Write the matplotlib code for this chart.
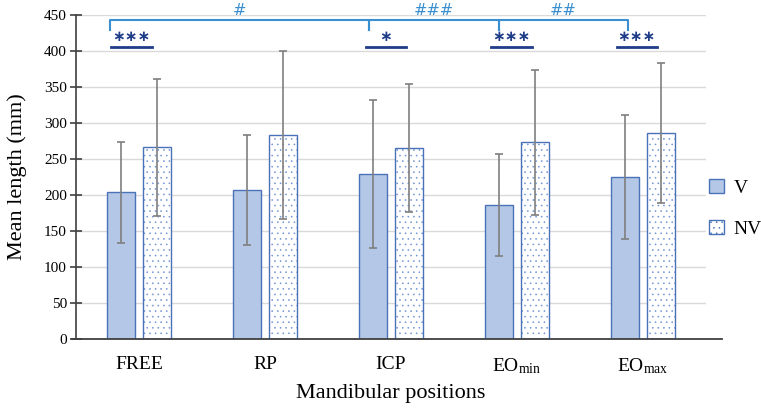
import matplotlib
matplotlib.use("Agg")
import matplotlib.pyplot as plt
import numpy as np

categories = ["FREE", "RP", "ICP", "EO$_{\\mathrm{min}}$", "EO$_{\\mathrm{max}}$"]
v_mean = [204, 207, 229, 186, 225]
v_sd = [70, 76, 103, 71, 86]
nv_mean = [266, 283, 265, 273, 286]
nv_sd = [95, 116, 89, 101, 97]
series_labels = ["V", "NV"]
y_ticks = [0, 50, 100, 150, 200, 250, 300, 350, 400, 450]

# significance annotations (category-coordinate spans)
star_spans = [(-0.22, 0.10), (1.80, 2.12), (2.79, 3.12), (3.79, 4.11)]
star_texts = ["\u2217\u2217\u2217", "\u2217", "\u2217\u2217\u2217", "\u2217\u2217\u2217"]
hash_spans = [(-0.23, 1.825), (1.825, 2.857), (2.857, 3.881)]
hash_texts = ["#", "###", "##"]

plt.rcParams['font.family'] = ['Liberation Serif', 'DejaVu Serif']
plt.rcParams['mathtext.fontset'] = 'custom'
plt.rcParams['mathtext.rm'] = 'Liberation Serif'
plt.rcParams['mathtext.it'] = 'Liberation Serif:italic'
plt.rcParams['hatch.linewidth'] = 0.4

W, H = 761, 408
fig = plt.figure(figsize=(W / 100, H / 100), dpi=100)
ax = fig.add_axes([76 / W, 1 - 339.3 / H, 630 / W, (339.3 - 14.7) / H])

x = np.arange(len(categories))
bw = 0.222
off = 0.143
edge = '#4A72B8'
ax.bar(x - off, v_mean, bw, color='#B4C7E7', edgecolor=edge, linewidth=1.0, zorder=3, label=series_labels[0])
# NV: hatched fill in lighter blue, then outline
ax.bar(x + off, nv_mean, bw, color='white', edgecolor='#6F93D3', linewidth=0, hatch='...', zorder=3)
ax.bar(x + off, nv_mean, bw, fill=False, edgecolor=edge, linewidth=1.0, zorder=3)
ax.bar([np.nan], [np.nan], bw, color='white', edgecolor=edge, linewidth=1.0, hatch='...', label=series_labels[1])
ax.errorbar(x - off, v_mean, yerr=v_sd, fmt='none', ecolor='#7F7F7F', elinewidth=1.2, capsize=3, capthick=1.2, zorder=4)
ax.errorbar(x + off, nv_mean, yerr=nv_sd, fmt='none', ecolor='#7F7F7F', elinewidth=1.2, capsize=3, capthick=1.2, zorder=4)

ax.set_xlim(-0.5, 4.5)
ax.set_ylim(0, 450)
ax.set_yticks(y_ticks)
ax.set_xticks(x)
ax.set_xticklabels(categories, fontsize=14)
ax.tick_params(axis='x', length=0, pad=12)
ax.tick_params(axis='y', direction='inout', length=9, width=1.2, color='#404040', labelsize=11, pad=2)
ax.yaxis.grid(True, color='#D9D9D9', linewidth=1.0, zorder=0)
ax.set_axisbelow(True)
for s in ['top', 'right', 'bottom']:
    ax.spines[s].set_visible(False)
ax.spines['left'].set_color('#404040')
ax.spines['left'].set_linewidth(1.2)
ax.plot([-0.532, 4.627], [0, 0], color='#404040', linewidth=1.3, clip_on=False, zorder=5)

ax.set_ylabel("Mean length (mm)", fontsize=16, labelpad=12)
ax.set_xlabel("Mandibular positions", fontsize=16, labelpad=6)

# significance stars
navy = '#1F3C88'
for (a, b), t in zip(star_spans, star_texts):
    ax.plot([a, b], [405.6, 405.6], color=navy, linewidth=2.0, clip_on=False, zorder=6)
    ax.text((a + b) / 2, 409, t, ha='center', va='bottom', fontsize=11, color=navy,
            family='DejaVu Sans', fontweight='bold')

# brackets
lblue = '#3A8FD0'
for (a, b), t in zip(hash_spans, hash_texts):
    ax.plot([a, a, b, b], [429, 442.7, 442.7, 429], color=lblue, linewidth=1.5, clip_on=False, zorder=6)
    ax.text((a + b) / 2, 445, t, ha='center', va='bottom', fontsize=11.5, color=lblue,
            family='DejaVu Sans', fontstyle='italic')

fig.legend(loc='upper left', bbox_to_anchor=(709 / W, 1 - 179 / H), frameon=False,
           fontsize=14, handlelength=0.75, handleheight=0.75, handletextpad=0.5,
           labelspacing=1.2, borderpad=0, borderaxespad=0)

fig.savefig("out.png", dpi=100)
